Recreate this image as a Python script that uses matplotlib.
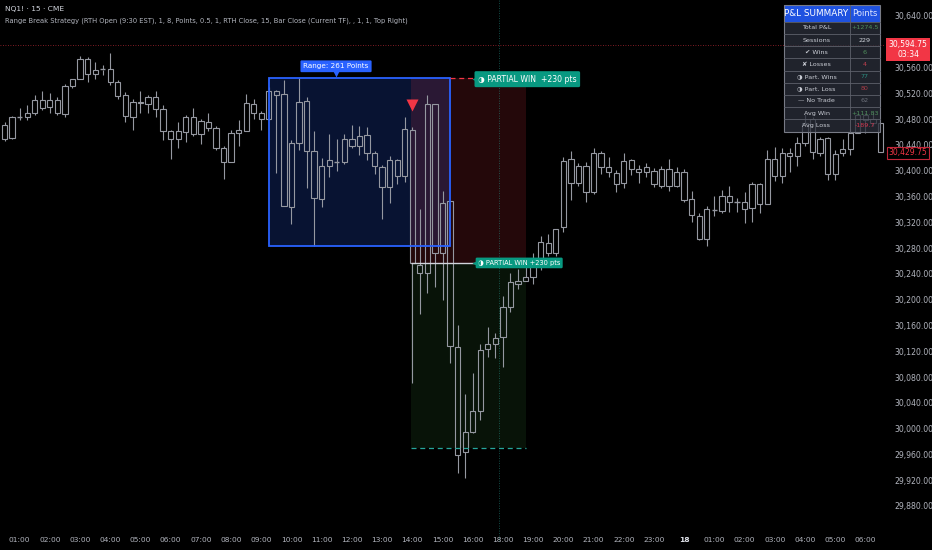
import matplotlib
matplotlib.use('Agg')
import matplotlib.pyplot as plt
from matplotlib.patches import Rectangle
import pandas as pd

# 15-minute OHLC bars, 00:30 (day 17) to 06:30 (day 18), no 17:00 hour
opens = [30471, 30450, 30483, 30483, 30489, 30509, 30499, 30509, 30488, 30532,
         30542, 30573, 30550, 30557, 30558, 30538, 30518, 30483, 30507, 30503,
         30514, 30496, 30461, 30449, 30460, 30483, 30457, 30476, 30467, 30436,
         30414, 30458, 30462, 30503, 30489, 30480, 30524, 30519, 30344, 30442.5,
         30508, 30431, 30356, 30408, 30414, 30413, 30449, 30439, 30455.5, 30428,
         30406, 30374, 30417, 30392, 30463, 30254, 30241, 30503.5, 30273, 30353,
         30126, 29963, 29994, 30027, 30123, 30131, 30142, 30188, 30224, 30229.5,
         30235, 30256, 30288.5, 30273, 30312, 30418, 30380.5, 30407.5, 30366.5, 30428,
         30406, 30396, 30380.5, 30416.5, 30402.5, 30397.5, 30399.5, 30377, 30402.5, 30376,
         30398.5, 30356, 30329, 30294, 30339, 30337.5, 30361, 30352, 30352, 30341.5,
         30379.5, 30348.5, 30417.5, 30392.5, 30427, 30423, 30443.5, 30479.5, 30427, 30450,
         30395, 30428, 30433, 30459, 30486.5, 30479.5, 30473.5]
highs = [30476, 30485, 30497, 30502, 30517, 30524, 30520, 30515, 30534, 30543,
         30578, 30577, 30569, 30564, 30582, 30541, 30522, 30512, 30523, 30517,
         30524, 30502, 30463, 30476, 30486, 30497, 30480, 30490, 30469, 30438,
         30463, 30478, 30519, 30511, 30492, 30530, 30525, 30541, 30447, 30543.75,
         30515, 30462, 30419, 30457, 30449, 30457, 30471, 30469, 30468, 30430,
         30409, 30423, 30418, 30483, 30468, 30340, 30518, 30504, 30369, 30353,
         30161, 30054, 30087, 30131, 30158, 30148, 30205, 30242, 30247, 30259,
         30272, 30299, 30302, 30310, 30422, 30431, 30412.5, 30414, 30435, 30431,
         30422, 30401, 30428, 30418, 30409, 30411.5, 30404, 30407, 30418, 30406,
         30402, 30368.5, 30334, 30345, 30361, 30370, 30376, 30357, 30367.5, 30383,
         30380.5, 30432, 30437, 30435, 30436, 30453, 30488, 30484, 30453, 30452,
         30432, 30448.5, 30464, 30488, 30490, 30491.5, 30474]
lows = [30446, 30449, 30479, 30479, 30486, 30494, 30490, 30486, 30483, 30528,
        30542, 30537, 30542, 30548, 30533, 30512, 30476, 30463, 30490, 30490,
        30484, 30448, 30418, 30435, 30445, 30454, 30441, 30461, 30432, 30387,
        30414, 30438, 30461, 30480, 30463, 30479, 30397, 30346, 30318, 30432,
        30373, 30282.75, 30344, 30391, 30399, 30411, 30435, 30424, 30417, 30395,
        30325, 30350, 30380, 30383, 30070, 30178, 30210, 30219, 30200, 30101,
        29931, 29923, 29993, 30013, 30111, 30109, 30096, 30181, 30216, 30229,
        30224, 30246, 30268, 30268, 30305, 30355, 30377, 30352, 30364, 30395,
        30390, 30366.5, 30373, 30393, 30380.5, 30391, 30375, 30373, 30369, 30375,
        30352, 30321, 30292.5, 30283, 30329, 30335, 30336.5, 30336.5, 30318.5, 30321,
        30334, 30348.5, 30384, 30381.5, 30398.5, 30407, 30438, 30417.5, 30423, 30385.5,
        30385, 30423, 30424.5, 30458, 30458, 30469, 30429.75]
closes = [30449, 30484, 30483, 30490, 30510, 30498, 30509, 30490, 30532, 30542,
          30573, 30550, 30557, 30557.5, 30537, 30516, 30485, 30507, 30505, 30514,
          30496, 30461, 30449, 30461, 30484, 30457, 30477, 30467, 30436, 30414,
          30458, 30463, 30505, 30489, 30480, 30524, 30517.5, 30346, 30442.5, 30507,
          30431, 30357, 30408, 30417, 30413, 30449, 30439, 30454, 30427, 30408,
          30375, 30417, 30392, 30465, 30256.5, 30241, 30503.5, 30273, 30350.5, 30128,
          29959, 29994, 30027, 30122, 30132, 30140, 30188, 30227, 30229.5, 30235,
          30256, 30290, 30273, 30310, 30415, 30381.5, 30407.5, 30366.5, 30428, 30405,
          30397.5, 30379, 30415.5, 30402, 30398.5, 30405, 30379, 30402, 30377, 30397.5,
          30354.5, 30331.5, 30294, 30340, 30339.25, 30361, 30352, 30352.25, 30340.5, 30379.5,
          30348.5, 30417.5, 30392.5, 30428, 30423, 30443.5, 30474.5, 30428.5, 30448.5, 30395,
          30426, 30433, 30459, 30486.5, 30479, 30474.5, 30429.75]

# strategy levels
range_high = 30544
range_low = 30283
range_start, range_end = 35.0, 59.0
entry_price = 30257
stop_price = 30544
target_price = 29970
trade_start, trade_end = 53.8, 69.0
signal_bar = 54
signal_price = 30502
current_price = 30594.75
countdown = '03:34'
last_price = 30429.75

table_labels = ['Total P&L', 'Sessions', '✔ Wins', '✘ Losses', '◑ Part. Wins',
                '◑ Part. Loss', '— No Trade', 'Avg Win', 'Avg Loss']
table_values = ['+1274.5', '229', '6', '4', '77', '80', '62', '+111.83', '-189.7']
table_colors = ['#4f8f5c', '#d1d4dc', '#4f8f5c', '#c2404f', '#2c8c80',
                '#a83c46', '#6e727c', '#4f8f5c', '#d1344d']

times = pd.date_range('2025-11-17 00:30', '2025-11-18 06:30', freq='15min')
times = times[~((times.day == 17) & (times.hour == 17))]


def main():
    W, H = 932, 550
    fig = plt.figure(figsize=(W / 100, H / 100), dpi=100, facecolor='black')
    ax = fig.add_axes([0, 25 / H, 885 / W, 525 / H])
    ax.set_facecolor('black')
    ax.set_xlim(-0.6, 116.6)
    ax.set_ylim(29850.5, 30664.8)
    for s in ax.spines.values():
        s.set_visible(False)

    # zones
    ax.add_patch(Rectangle((range_start, range_low), range_end - range_start,
                           range_high - range_low, fc='#2962ff', alpha=0.2,
                           ec='none', zorder=1))
    ax.add_patch(Rectangle((range_start, range_low), range_end - range_start,
                           range_high - range_low, fill=False, ec='#2962ff',
                           lw=1.3, zorder=4))
    ax.add_patch(Rectangle((trade_start, entry_price), trade_end - trade_start,
                           stop_price - entry_price, fc='#f23645', alpha=0.15,
                           ec='none', zorder=1))
    ax.add_patch(Rectangle((trade_start, target_price), trade_end - trade_start,
                           entry_price - target_price, fc='#4caf50', alpha=0.11,
                           ec='none', zorder=1))

    ax.axvline(65.5, ymin=-0.03, color='#26a69a', ls=(0, (1, 2)), lw=0.6,
               alpha=0.6, clip_on=False, zorder=1)
    ax.axhline(current_price, color='#f23645', ls=(0, (1, 2)), lw=0.6,
               alpha=0.7, zorder=1)

    # candles (hollow)
    cc = '#9598a1'
    for i, (o, h, l, c) in enumerate(zip(opens, highs, lows, closes)):
        top, bot = max(o, c), min(o, c)
        ax.vlines(i, top, h, color=cc, lw=0.8, zorder=3)
        ax.vlines(i, l, bot, color=cc, lw=0.8, zorder=3)
        if top - bot < 1.5:
            ax.hlines(top, i - 0.35, i + 0.35, color=cc, lw=1.0, zorder=3)
        else:
            ax.add_patch(Rectangle((i - 0.35, bot), 0.7, top - bot, fill=False,
                                   ec=cc, lw=0.8, zorder=3))

    # trade lines
    ax.hlines(entry_price, trade_start, 62.3, color='#d1d4dc', lw=1.0, zorder=4)
    ax.hlines(stop_price, range_end, 62.3, color='#f23645', lw=0.9,
              ls=(0, (4, 3)), zorder=4)
    ax.hlines(target_price, trade_start, trade_end, color='#26a69a', lw=0.9,
              ls=(0, (4, 3)), zorder=4)
    ax.plot(signal_bar, signal_price, marker='v', ms=9, color='#f23645',
            mec='none', zorder=5)

    # labels
    lbl = dict(color='white', va='center', ha='left', zorder=6)
    ax.text(62.7, stop_price - 2, '◑ PARTIAL WIN  +230 pts', fontsize=5.6,
            bbox=dict(boxstyle='round,pad=0.45,rounding_size=0.2', fc='#089981',
                      ec='none'), **lbl)
    ax.plot(62.35, stop_price - 2, marker='<', ms=5, color='#089981',
            mec='none', zorder=6)
    ax.text(62.7, entry_price, '◑ PARTIAL WIN +230 pts', fontsize=4.8,
            bbox=dict(boxstyle='round,pad=0.35,rounding_size=0.2', fc='#089981',
                      ec='none'), **lbl)
    ax.plot(62.35, entry_price, marker='<', ms=4, color='#089981',
            mec='none', zorder=6)
    ax.text((range_start + range_end) / 2 - 3.1, 30562,
            'Range: %d Points' % (range_high - range_low), fontsize=5.2,
            color='white', ha='center', va='center', zorder=6,
            bbox=dict(boxstyle='round,pad=0.4,rounding_size=0.15', fc='#2962ff',
                      ec='none'))
    ax.plot((range_start + range_end) / 2 - 3.1, 30550, marker='v', ms=4,
            color='#2962ff', mec='none', zorder=6)

    # axes ticks (30,600 sits under the live price tag)
    yt = list(range(29880, 30641, 40))
    ax.yaxis.tick_right()
    ax.set_yticks(yt)
    ax.set_yticklabels(['' if v == 30600 else '{:,.2f}'.format(v) for v in yt])
    ax.tick_params(axis='y', length=0, pad=7, labelsize=5.6,
                   labelcolor='#b2b5be')
    pos = [i for i, t in enumerate(times) if t.minute == 0]
    labs = ['%d' % t.day if t.hour == 0 else t.strftime('%H:%M')
            for t in times if t.minute == 0]
    ax.set_xticks(pos)
    ax.set_xticklabels(labs)
    ax.tick_params(axis='x', length=0, pad=9, labelsize=5.4,
                   labelcolor='#b2b5be')
    for t in ax.get_xticklabels():
        if t.get_text() == '18':
            t.set_fontweight('bold')
            t.set_color('#e0e3eb')

    yax = ax.get_yaxis_transform()
    ax.text(908 / 885, current_price - 7,
            '{:,.2f}\n{}'.format(current_price, countdown),
            transform=yax, ha='center', va='center', fontsize=5.5,
            color='white', linespacing=1.15, clip_on=False, zorder=7,
            bbox=dict(boxstyle='square,pad=0.3', fc='#f23645', ec='none'))
    ax.text(908 / 885, last_price - 2, '{:,.2f}'.format(last_price),
            transform=yax, ha='center', va='center', fontsize=5.5,
            color='#f23645', clip_on=False, zorder=7,
            bbox=dict(boxstyle='square,pad=0.2', fc='black', ec='#c2273a',
                      lw=0.8))

    # overlay in pixel space for title and table
    ov = fig.add_axes([0, 0, 1, 1], facecolor='none')
    ov.set_xlim(0, W)
    ov.set_ylim(H, 0)
    ov.axis('off')
    ov.text(5, 9.5, 'NQ1! · 15 · CME', color='#d1d4dc', fontsize=5.4,
            va='center')
    ov.text(5, 21, 'Range Break Strategy (RTH Open (9:30 EST), 1, 8, Points, 0.5, 1, '
            'RTH Close, 15, Bar Close (Current TF), , 1, 1, Top Right)',
            color='#b2b5be', fontsize=4.9, va='center')

    x0, x1, x2 = 783.5, 849.5, 880
    y0, hh, rh = 5, 16.7, 12.2
    ov.add_patch(Rectangle((x0, y0), x2 - x0, hh, fc='#1f52e0', ec='none'))
    ov.text((x0 + x1) / 2, y0 + hh / 2, 'P&L SUMMARY', color='white',
            fontsize=6.4, ha='center', va='center')
    ov.text((x1 + x2) / 2, y0 + hh / 2, 'Points', color='#dfe6ff',
            fontsize=6.0, ha='center', va='center')
    for k, (lab, val, col) in enumerate(zip(table_labels, table_values,
                                            table_colors)):
        ty = y0 + hh + k * rh
        ov.add_patch(Rectangle((x0, ty), x2 - x0, rh, fc='#2a2e39', alpha=0.78,
                               ec='none'))
        ov.plot([x0, x2], [ty, ty], color='#5d606b', lw=0.6)
        ov.text((x0 + x1) / 2, ty + rh / 2, lab, color='#c9ccd4', fontsize=4.6,
                ha='center', va='center')
        ov.text((x1 + x2) / 2, ty + rh / 2, val, color=col, fontsize=4.6,
                ha='center', va='center')
    yb = y0 + hh + len(table_labels) * rh
    ov.plot([x1, x1], [y0, yb], color='#5d606b', lw=0.6)
    ov.add_patch(Rectangle((x0, y0), x2 - x0, yb - y0, fill=False,
                           ec='#787b86', lw=0.8))

    fig.savefig('out.png', dpi=100, facecolor='black')


if __name__ == '__main__':
    main()
